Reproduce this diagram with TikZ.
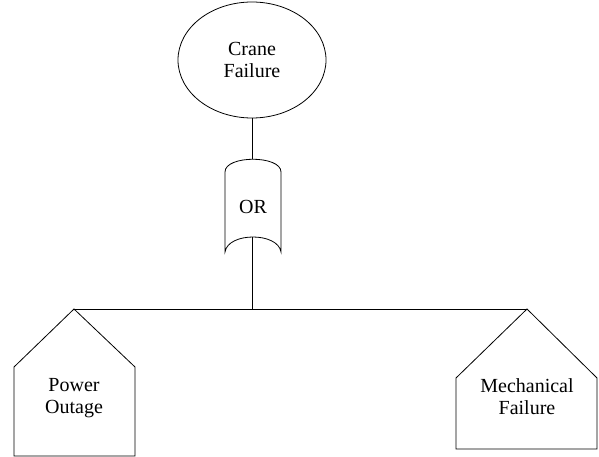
\documentclass[tikz,border=0pt]{standalone}
\usepackage{fontspec}
\setmainfont{Liberation Serif}
\usetikzlibrary{shapes.geometric}
\begin{document}
\begin{tikzpicture}[x=1pt,y=-1pt,line width=0.8pt,
  lbl/.style={align=center,font=\fontsize{20}{22}\selectfont,inner sep=0pt}]
\useasboundingbox (0,0) rectangle (599,457);
% top event
\node[draw,ellipse,minimum width=148pt,minimum height=116pt,lbl] (top) at (252,60) {Crane\\Failure};
% OR gate
\coordinate (orin) at (252,159);
\coordinate (orout) at (252,237);
\draw (225,172) .. controls (225,155) and (281,155) .. (281,172) -- (281,252)
      .. controls (278,232) and (228,232) .. (225,252) -- cycle;
\node[lbl] (or) at (253,207) {OR};
% bus
\coordinate (busL) at (74,309);
\coordinate (busM) at (252,309);
\coordinate (busR) at (527,309);
\draw (top.south) -- (orin);
\draw (orout) -- (busM);
\draw (busL) -- (busR);
% basic events (house shapes)
\draw (busL) -- (135,367) -- (135,456) -- (14,456) -- (14,367) -- cycle;
\node[lbl] (power) at (74,398) {Power\\Outage};
\draw (busR) -- (597,378) -- (597,449) -- (456,449) -- (456,378) -- cycle;
\node[lbl] (mech) at (527,397) {Mechanical\\Failure};
\end{tikzpicture}
\end{document}
